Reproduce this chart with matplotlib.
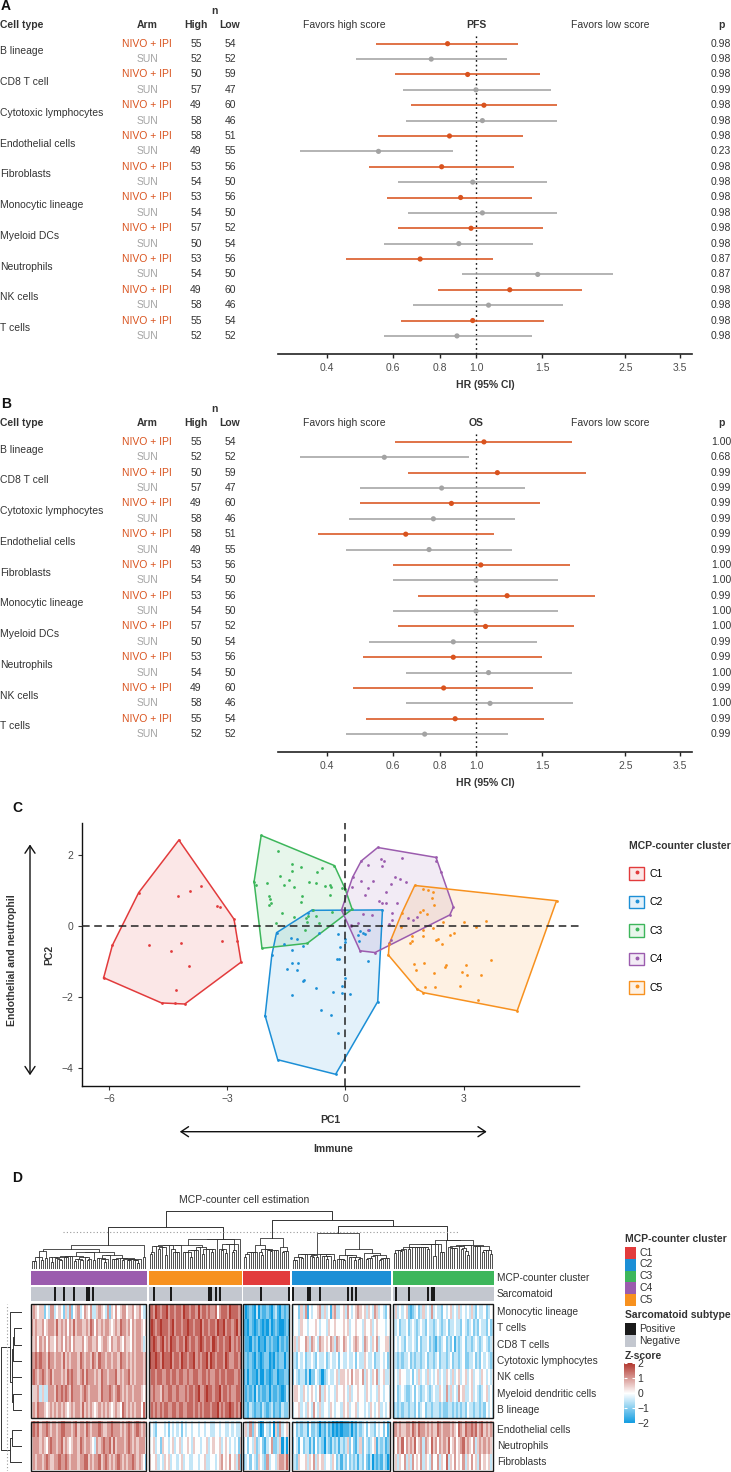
import numpy as np
import matplotlib
matplotlib.use('Agg')
import matplotlib.pyplot as plt
from matplotlib.colors import LinearSegmentedColormap, to_rgba
from matplotlib.patches import Patch, Rectangle, FancyArrowPatch
from matplotlib.lines import Line2D
from matplotlib.ticker import NullLocator
from matplotlib.transforms import blended_transform_factory
from matplotlib.cm import ScalarMappable
from matplotlib.colors import Normalize

plt.rcParams['font.family'] = ['Liberation Sans', 'DejaVu Sans']

# ---------------- data: forest plots (A: PFS, B: OS) ----------------
cell_types = ['B lineage', 'CD8 T cell', 'Cytotoxic lymphocytes', 'Endothelial cells',
              'Fibroblasts', 'Monocytic lineage', 'Myeloid DCs', 'Neutrophils',
              'NK cells', 'T cells']
arms = ['NIVO + IPI', 'SUN']
n_high = [55, 52, 50, 57, 49, 58, 58, 49, 53, 54, 53, 54, 57, 50, 53, 54, 49, 58, 55, 52]
n_low = [54, 52, 59, 47, 60, 46, 51, 55, 56, 50, 56, 50, 52, 54, 56, 50, 60, 46, 54, 52]

pfs_hr = [0.84, 0.76, 0.95, 1.00, 1.05, 1.04, 0.85, 0.55, 0.81, 0.98,
          0.91, 1.04, 0.97, 0.90, 0.71, 1.46, 1.23, 1.08, 0.98, 0.89]
pfs_lo = [0.54, 0.48, 0.61, 0.64, 0.67, 0.65, 0.55, 0.34, 0.52, 0.62,
          0.58, 0.66, 0.62, 0.57, 0.45, 0.92, 0.79, 0.68, 0.63, 0.57]
pfs_hi = [1.29, 1.21, 1.48, 1.58, 1.64, 1.64, 1.33, 0.87, 1.26, 1.55,
          1.41, 1.64, 1.51, 1.42, 1.11, 2.32, 1.92, 1.71, 1.52, 1.41]
pfs_p = ['0.98', '0.98', '0.98', '0.99', '0.98', '0.98', '0.98', '0.23', '0.98', '0.98',
         '0.98', '0.98', '0.98', '0.98', '0.87', '0.87', '0.98', '0.98', '0.98', '0.98']

os_hr = [1.05, 0.57, 1.14, 0.81, 0.86, 0.77, 0.65, 0.75, 1.03, 1.00,
         1.21, 1.00, 1.06, 0.87, 0.87, 1.08, 0.82, 1.09, 0.88, 0.73]
os_lo = [0.61, 0.34, 0.66, 0.49, 0.49, 0.46, 0.38, 0.45, 0.60, 0.60,
         0.70, 0.60, 0.62, 0.52, 0.50, 0.65, 0.47, 0.65, 0.51, 0.45]
os_hi = [1.80, 0.96, 1.96, 1.35, 1.48, 1.27, 1.12, 1.25, 1.78, 1.65,
         2.08, 1.65, 1.82, 1.45, 1.50, 1.80, 1.42, 1.81, 1.52, 1.22]
os_p = ['1.00', '0.68', '0.99', '0.99', '0.99', '0.99', '0.99', '0.99', '1.00', '1.00',
        '0.99', '1.00', '1.00', '0.99', '0.99', '1.00', '0.99', '1.00', '0.99', '0.99']

hr_ticks = [0.4, 0.6, 0.8, 1.0, 1.5, 2.5, 3.5]
hr_ticklabels = ['0.4', '0.6', '0.8', '1.0', '1.5', '2.5', '3.5']

# ---------------- data: PCA scatter (C) ----------------
pca_c1 = [(-4.23, 2.41), (-5.25, 0.93), (-5.92, -0.56), (-6.14, -1.47), (-4.67, -2.18),
          (-4.34, -2.19), (-4.08, -2.21), (-2.65, -1.03), (-2.75, -0.44), (-2.83, 0.18),
          (-4.26, 0.84), (-3.95, 0.98), (-3.68, 1.11), (-3.26, 0.56), (-3.19, 0.53),
          (-5.00, -0.54), (-4.18, -0.50), (-4.42, -0.73), (-3.98, -1.14), (-3.14, -0.43),
          (-4.30, -1.82)]
pca_c2 = [(-0.86, 0.43), (-1.75, -0.20), (-1.87, -0.83), (-2.04, -2.54), (-1.72, -3.78),
          (-0.25, -4.19), (-0.96, 0.35), (-1.55, -0.51), (-1.38, -0.34), (-1.24, -0.37),
          (-1.36, -0.69), (-1.08, -0.57), (-0.67, -0.20), (-0.18, -0.25), (-0.01, -0.38),
          (-0.01, -0.45), (-0.14, -0.59), (-0.21, -0.95), (-0.16, -0.93), (-1.36, -1.06),
          (-1.20, -1.05), (-1.49, -1.21), (-1.24, -1.24), (-1.05, -1.52), (-1.09, -1.55),
          (-0.76, -1.75), (-0.31, -1.87), (-0.09, -1.71), (-0.09, -1.90), (0.11, -1.93),
          (-1.36, -1.95), (-0.61, -2.39), (-0.37, -2.52), (-0.20, -3.02), (-0.01, -1.48),
          (0.33, -0.26), (0.45, -0.22), (0.35, -0.43), (0.58, -1.01), (0.37, -0.14),
          (0.50, -0.23), (0.60, -0.13), (0.94, 0.44), (0.82, -2.14)]
pca_c3 = [(-2.14, 2.54), (-1.72, 2.11), (-1.36, 1.73), (-1.12, 1.64), (-0.59, 1.61),
          (-0.72, 1.51), (-1.37, 1.55), (-1.65, 1.40), (-1.43, 1.29), (-1.55, 1.15),
          (-1.98, 1.19), (-2.32, 1.24), (-2.26, 1.15), (-1.30, 1.10), (-0.93, 1.22),
          (-0.75, 1.21), (-0.53, 1.12), (-0.38, 1.15), (-0.37, 1.08), (-0.28, 1.69),
          (-0.09, 1.05), (-1.93, 0.82), (-1.91, 0.74), (-1.89, 0.63), (-1.93, 0.58),
          (-1.10, 0.82), (-1.14, 0.67), (-0.39, 0.87), (-0.82, 0.44), (-1.60, 0.35),
          (-1.30, 0.23), (-1.01, 0.20), (-0.94, 0.26), (-0.76, 0.28), (-0.68, 0.07),
          (-0.98, 0.09), (-0.34, 0.38), (-1.77, 0.07), (-1.02, -0.12), (-0.97, -0.50),
          (-2.12, -0.64), (0.17, 0.46), (-0.01, 1.04)]
pca_c4 = [(0.82, 2.20), (2.30, 1.92), (2.31, 1.83), (2.42, 1.52), (2.74, 0.52),
          (2.65, 0.30), (0.75, -0.76), (0.37, -0.71), (0.40, 1.82), (0.18, 1.36),
          (0.16, 1.10), (0.90, 1.87), (0.98, 1.83), (0.93, 1.69), (1.43, 1.91),
          (0.57, 1.70), (0.39, 1.26), (0.71, 1.26), (0.56, 1.07), (1.27, 1.38),
          (1.39, 1.31), (1.54, 1.23), (1.15, 1.16), (1.04, 0.95), (0.49, 0.86),
          (0.86, 0.70), (0.93, 0.63), (1.03, 0.65), (1.30, 0.64), (1.17, 0.35),
          (1.18, 0.17), (0.45, 0.33), (0.67, 0.31), (1.60, 0.20), (1.71, 0.17),
          (1.82, 0.24), (1.10, 0.04), (0.15, -0.01), (0.58, -0.12), (1.16, -0.42),
          (1.11, -0.50), (-0.10, 0.44), (0.33, 0.07), (0.14, 0.02)]
pca_c5 = [(1.76, 1.13), (5.36, 0.70), (1.09, -0.83), (1.11, -0.52), (1.82, -1.79),
          (1.98, -1.89), (1.96, 1.03), (2.10, 1.01), (2.23, 0.94), (2.21, 0.78),
          (2.25, 0.57), (1.96, 0.44), (1.89, 0.39), (2.08, 0.34), (1.43, 0.35),
          (2.48, 0.11), (3.02, 0.09), (3.31, -0.05), (3.57, 0.13), (1.42, -0.05),
          (1.70, -0.28), (1.98, -0.28), (1.96, -0.12), (2.23, -0.08), (2.65, -0.27),
          (2.75, -0.20), (2.29, -0.42), (2.35, -0.38), (2.44, -0.52), (1.65, -0.48),
          (1.69, -0.43), (1.74, -1.08), (1.79, -1.26), (2.00, -1.06), (2.52, -1.16),
          (2.55, -1.10), (2.25, -1.34), (3.05, -1.12), (2.96, -1.31), (3.08, -1.39),
          (3.45, -1.40), (3.70, -0.97), (2.91, -1.70), (2.03, -1.74), (2.27, -1.72),
          (4.36, -2.40), (3.37, -2.11)]

clusters = ['C1', 'C2', 'C3', 'C4', 'C5']
cluster_colors = ['#E23B3C', '#1C8FD6', '#3DB65B', '#9B5CAE', '#F7911F']

# ---------------- data: MCP-counter heatmap (D) ----------------
# digits 0..8 -> z-score (d - 4) / 2, one digit per patient column
hm_rows = ['Monocytic lineage', 'T cells', 'CD8 T cells', 'Cytotoxic lymphocytes', 'NK cells',
           'Myeloid dendritic cells', 'B lineage', 'Endothelial cells', 'Neutrophils', 'Fibroblasts']
hm_C4 = ["56545 52436 63454 25362 45634 65463 35654 36254 64566 45564 56433",
         "65655 64566 65756 56465 75665 56576 46565 66545 65766 56465 66545",
         "55646 56465 54656 46564 65556 45665 56456 65465 56546 55465 66534",
         "66767 66576 65665 75656 66576 56657 65766 56656 65766 56565 66656",
         "67656 76567 56665 65767 66567 57666 56576 65666 75656 67565 66656",
         "45563 53366 65767 67657 66656 76566 66576 66765 67656 56656 66545",
         "56576 65456 56565 65456 56657 56565 45656 56545 65476 56565 66475",
         "67675 66765 66567 76665 67566 57656 66765 56676 66565 67656 76565",
         "56665 65467 66567 56545 66576 56654 36567 66757 56665 67656 56664",
         "56566 56765 56676 67656 66566 77565 66756 76565 67656 56676 56542"]
hm_C5 = ["77687 67786 77677 68776 77686 77676 67467 77687 7767",
         "78767 87776 78677 67787 76778 67767 76877 86776 7867",
         "77876 78676 87767 76876 77678 76776 87677 67786 7676",
         "87787 68777 86776 87767 78676 77868 76777 68766 7767",
         "67767 76677 67767 76676 67766 77676 67767 76777 6676",
         "66766 57667 76676 66767 76786 67877 67786 77676 6776",
         "67676 76776 67767 76677 76767 67776 77867 67787 6768",
         "34324 44342 43434 24344 34434 43443 34434 43343 4334",
         "44534 25443 45345 34454 35443 44534 54453 45434 3425",
         "54453 43545 34434 53443 34434 45334 43456 45464 5362"]
hm_C1 = ["20121 03021 12102 31021 22",
         "11021 01210 10201 21001 21",
         "21102 12011 02121 10212 12",
         "22121 02101 22010 21220 22",
         "12021 10200 21012 20112 21",
         "21212 03121 12021 12101 32",
         "22132 12213 21231 22132 23",
         "45362 54201 43240 52634 54",
         "34243 52342 13462 23503 04",
         "23424 32543 26344 35665 75"]
hm_C2 = ["34425 36143 44563 53415 63345 36434 56545 35436 53432 45",
         "34435 44344 45434 43544 54445 45344 54435 44534 54443 44",
         "45354 46536 54365 45465 36546 54345 65436 54354 63445 53",
         "33243 42334 32433 42343 34243 34334 24335 43342 33434 23",
         "24323 31302 24320 23433 45355 45464 55463 54354 63453 34",
         "45543 54345 43463 54344 35445 43534 45443 54344 35434 43",
         "34453 43543 64353 44354 34435 45344 53443 43543 45343 45",
         "34232 33142 23202 13120 10101 11202 13234 24332 43424 13",
         "24314 23313 14232 03213 23132 35242 13524 32345 13231 23",
         "33254 45354 63545 34435 42313 24232 31324 21302 12132 02"]
hm_C3 = ["35343 45212 34235 34363 43324 34534 35343 43532 43342 344",
         "33423 34234 32343 24332 34323 42334 33243 23423 24332 423",
         "34343 24334 32423 34232 13234 23241 32342 33234 32343 234",
         "33232 33423 23323 42332 34233 23423 32342 23342 32434 323",
         "34354 43342 43534 35343 45343 54353 45345 34534 43543 434",
         "34234 32234 24323 43234 33543 63534 36453 34534 32345 343",
         "23232 33233 24234 23323 33232 23323 23232 43323 32324 343",
         "66565 56657 65766 56565 57656 66565 47657 66767 56756 565",
         "54657 46565 74563 65475 64656 57456 45675 65463 56565 654",
         "45354 63536 45463 54364 46354 73546 45463 54645 36454 534"]
hm_order = ['C4', 'C5', 'C1', 'C2', 'C3']
sarcomatoid_pos = {'C4': [11, 15, 20, 26, 27, 29], 'C5': [2, 10, 28, 29, 31, 33],
                   'C1': [8, 21], 'C2': [0, 7, 8, 13, 26, 28, 30], 'C3': [1, 7, 16, 18, 19]}
# dendrogram heights (pixels above the leaves)
subtree_height = {'C4': 24, 'C5': 30, 'C1': 31, 'C2': 36, 'C3': 29}
top_merges = [('C4', 'C5', 42.3), ('C2', 'C3', 43.3), ('C1', 'C2+C3', 49.0),
              ('C4+C5', 'C1+C2+C3', 58.3)]
cut_height = 37.3

ORANGE = '#D9531E'
GREY = '#A3A3A3'
TXT = '#333333'

W, H = 731, 1472
fig = plt.figure(figsize=(W / 100, H / 100), dpi=100)


def fx(p):
    return p / W


def fy(p):
    return 1 - p / H


def box(x0, y0, x1, y1):
    return [x0 / W, 1 - y1 / H, (x1 - x0) / W, (y1 - y0) / H]


# ---------------- forest panels ----------------
def forest(top, hr, lo, hi, pv, endpoint, letter):
    ax = fig.add_axes(box(278, top - 8.7, 692, top + 310.3))
    rows = np.arange(len(hr))
    cols = [ORANGE if r % 2 == 0 else GREY for r in rows]
    ax.hlines(rows, lo, hi, colors=cols, lw=1.15)
    ax.scatter(hr, rows, s=14, c=cols, zorder=3, linewidths=0)
    ax.axvline(1.0, color='#111111', lw=1.0, ls=(0, (1.2, 2.2)), zorder=1)
    ax.set_xscale('log')
    ax.set_xlim(0.297, 3.76)
    ax.set_ylim(310.3 / 15.38, -8.7 / 15.38)
    ax.set_xticks(hr_ticks)
    ax.set_xticklabels(hr_ticklabels)
    ax.xaxis.set_minor_locator(NullLocator())
    ax.set_yticks([])
    for s in ['top', 'right', 'left']:
        ax.spines[s].set_visible(False)
    ax.spines['bottom'].set_linewidth(1.2)
    ax.spines['bottom'].set_color('#222222')
    ax.tick_params(axis='x', length=3, width=1, color='#222222', labelsize=7.5,
                   labelcolor='#4D4D4D', pad=3.5)
    ax.set_xlabel('HR (95% CI)', fontsize=7.5, fontweight='bold', color=TXT, labelpad=5)
    ax.set_facecolor('none')

    tr = blended_transform_factory(fig.transFigure, ax.transData)
    for i, ct in enumerate(cell_types):
        ax.text(0, 2 * i + 0.5, ct, transform=tr, ha='left', va='center', fontsize=7.5, color=TXT)
    for r in rows:
        c = ORANGE if r % 2 == 0 else GREY
        ax.text(fx(147), r, arms[r % 2], transform=tr, ha='center', va='center', fontsize=7.5, color=c)
        ax.text(fx(196), r, str(n_high[r]), transform=tr, ha='center', va='center', fontsize=7.5, color=TXT)
        ax.text(fx(230), r, str(n_low[r]), transform=tr, ha='center', va='center', fontsize=7.5, color=TXT)
        ax.text(fx(721), r, pv[r], transform=tr, ha='center', va='center', fontsize=7.5, color=TXT)
    hy = -1.2
    ax.text(0, hy, 'Cell type', transform=tr, ha='left', va='center', fontsize=7.5, fontweight='bold', color=TXT)
    ax.text(fx(147), hy, 'Arm', transform=tr, ha='center', va='center', fontsize=7.5, fontweight='bold', color=TXT)
    ax.text(fx(196), hy, 'High', transform=tr, ha='center', va='center', fontsize=7.5, fontweight='bold', color=TXT)
    ax.text(fx(230), hy, 'Low', transform=tr, ha='center', va='center', fontsize=7.5, fontweight='bold', color=TXT)
    ax.text(fx(214), -2.13, 'n', transform=tr, ha='center', va='center', fontsize=7.5, fontweight='bold', color=TXT)
    ax.text(fx(344), hy, 'Favors high score', transform=tr, ha='center', va='center', fontsize=7.5, color=TXT)
    ax.text(1.0, hy, endpoint, ha='center', va='center', fontsize=7.5, fontweight='bold', color=TXT)
    ax.text(fx(610), hy, 'Favors low score', transform=tr, ha='center', va='center', fontsize=7.5, color=TXT)
    ax.text(fx(721), hy, 'p', transform=tr, ha='center', va='center', fontsize=7.5, fontweight='bold', color=TXT)
    ax.text(fx(1), -2.45, letter, transform=tr, ha='left', va='center', fontsize=10, fontweight='bold', color='#111111')
    return ax


forest(43.7, pfs_hr, pfs_lo, pfs_hi, pfs_p, 'PFS', 'A')
forest(441.9, os_hr, os_lo, os_hi, os_p, 'OS', 'B')


# ---------------- PCA panel ----------------
def hull(pts):
    p = sorted(set(pts))

    def cross(o, a, b):
        return (a[0] - o[0]) * (b[1] - o[1]) - (a[1] - o[1]) * (b[0] - o[0])
    lower, upper = [], []
    for q in p:
        while len(lower) >= 2 and cross(lower[-2], lower[-1], q) <= 0:
            lower.pop()
        lower.append(q)
    for q in reversed(p):
        while len(upper) >= 2 and cross(upper[-2], upper[-1], q) <= 0:
            upper.pop()
        upper.append(q)
    return np.array(lower[:-1] + upper[:-1])


axC = fig.add_axes(box(81.6, 823, 579, 1086))
for pts, col in zip([pca_c1, pca_c2, pca_c3, pca_c4, pca_c5], cluster_colors):
    h = hull(pts)
    axC.fill(h[:, 0], h[:, 1], color=col, alpha=0.12, lw=0)
    hc = np.vstack([h, h[:1]])
    axC.plot(hc[:, 0], hc[:, 1], color=col, lw=1.1)
    a = np.array(pts)
    axC.scatter(a[:, 0], a[:, 1], s=4, color=col, linewidths=0, zorder=3)
axC.axhline(0, color='#222222', lw=1.1, ls=(0, (5, 3)), zorder=4)
axC.axvline(0, color='#222222', lw=1.1, ls=(0, (5, 3)), zorder=4)
axC.set_xlim(-6.70, 5.93)
axC.set_ylim(-4.52, 2.89)
axC.set_xticks([-6, -3, 0, 3])
axC.set_yticks([-4, -2, 0, 2])
for s in ['top', 'right']:
    axC.spines[s].set_visible(False)
for s in ['left', 'bottom']:
    axC.spines[s].set_linewidth(1.0)
    axC.spines[s].set_color('#111111')
axC.tick_params(length=3, width=0.8, color='#333333', labelsize=7.5, labelcolor='#4D4D4D', pad=3)
axC.set_xlabel('PC1', fontsize=7.5, fontweight='bold', color=TXT, labelpad=8)
axC.set_ylabel('PC2', fontsize=7.5, fontweight='bold', color=TXT, labelpad=5)
axC.set_facecolor('none')

handles = [(Patch(facecolor=to_rgba(c, 0.12), edgecolor=c, lw=1.0),
            Line2D([], [], marker='o', ls='', ms=1.8, color=c)) for c in cluster_colors]
leg = fig.legend(handles, clusters, title='MCP-counter cluster', loc='upper left',
                 bbox_to_anchor=(fx(625), fy(837)), frameon=False, fontsize=7.5,
                 title_fontsize=7.5, handlelength=1.45, handleheight=1.45,
                 labelspacing=1.55, handletextpad=0.5, alignment='left', borderaxespad=0)
leg.get_title().set_fontweight('bold')
leg.get_title().set_color(TXT)

fig.text(fx(12), fy(808), 'C', fontsize=10, fontweight='bold', ha='left', va='center', color='#111111')
fig.text(fx(11.6), fy(960), 'Endothelial and neutrophil', rotation=90, fontsize=7.5,
         fontweight='bold', ha='center', va='center', color=TXT)
fig.text(fx(333), fy(1149), 'Immune', fontsize=7.5, fontweight='bold', ha='center', va='center', color=TXT)
arr_style = '<->,head_length=0.45,head_width=0.3'
fig.add_artist(FancyArrowPatch((fx(30), fy(1078)), (fx(30), fy(841.7)), transform=fig.transFigure,
                               arrowstyle=arr_style, mutation_scale=12, lw=1.0, color='#111111'))
fig.add_artist(FancyArrowPatch((fx(177), fy(1131.7)), (fx(489.5), fy(1131.7)), transform=fig.transFigure,
                               arrowstyle=arr_style, mutation_scale=12, lw=1.0, color='#111111'))

# ---------------- heatmap panel ----------------
hm_data = {'C4': hm_C4, 'C5': hm_C5, 'C1': hm_C1, 'C2': hm_C2, 'C3': hm_C3}
cmap = LinearSegmentedColormap.from_list('z', ['#0E9BE0', '#FFFFFF', '#B2382F'])


def to_mat(rows):
    m = [[(int(ch) - 4) / 2 for ch in r.replace(' ', '')] for r in rows]
    lens = {len(r) for r in m}
    assert len(lens) == 1, lens
    return np.array(m)


mats = {k: to_mat(v) for k, v in hm_data.items()}
gap = 1.1
offsets = {}
x = 0.0
for k in hm_order:
    offsets[k] = x
    x += mats[k].shape[1] + gap
total = x - gap

row_groups = [(0, 7, 0.0), (7, 10, 7.21)]
ymax = 10.21


def row_y(i):
    for r0, r1, y0 in row_groups:
        if r0 <= i < r1:
            return y0 + (i - r0) + 0.5


axH = fig.add_axes(box(31.2, 1304, 493.2, 1470.5))
for k in hm_order:
    M = mats[k]
    x0 = offsets[k]
    n = M.shape[1]
    for r0, r1, y0 in row_groups:
        axH.imshow(M[r0:r1], cmap=cmap, vmin=-2, vmax=2, aspect='auto', interpolation='nearest',
                   extent=(x0, x0 + n, y0 + (r1 - r0), y0))
        axH.add_patch(Rectangle((x0, y0), n, r1 - r0, fill=False, ec='#1A1A1A', lw=1.0,
                                zorder=5, clip_on=False))
axH.set_xlim(0, total)
axH.set_ylim(ymax, 0)
axH.axis('off')
trH = blended_transform_factory(fig.transFigure, axH.transData)
for i, name in enumerate(hm_rows):
    axH.text(fx(497), row_y(i), name, transform=trH, ha='left', va='center', fontsize=7.3, color=TXT)

# annotation bars
axA1 = fig.add_axes(box(31.2, 1270.7, 493.2, 1285.3))
axA2 = fig.add_axes(box(31.2, 1286.7, 493.2, 1300.7))
for k in hm_order:
    n = mats[k].shape[1]
    x0 = offsets[k]
    col = to_rgba(cluster_colors[clusters.index(k)])
    axA1.imshow(np.array([[col] * n]), aspect='auto', extent=(x0, x0 + n, 1, 0), interpolation='nearest')
    sar = np.array([[to_rgba('#1A1A1A') if j in sarcomatoid_pos[k] else to_rgba('#C3C7CF')
                     for j in range(n)]])
    axA2.imshow(sar, aspect='auto', extent=(x0, x0 + n, 1, 0), interpolation='nearest')
for a, lab in [(axA1, 'MCP-counter cluster'), (axA2, 'Sarcomatoid')]:
    a.set_xlim(0, total)
    a.set_ylim(1, 0)
    a.axis('off')
    a.text(fx(497), 0.5, lab, transform=blended_transform_factory(fig.transFigure, a.transAxes),
           ha='left', va='center', fontsize=7.3, color=TXT)


# order preserving (adjacent) Ward-type agglomeration for the dendrograms
def adj_tree(X, top):
    groups = [[i] for i in range(len(X))]
    pos = [i + 0.5 for i in range(len(X))]
    hts = [0.0] * len(X)
    segs = []
    while len(groups) > 1:
        d = []
        for j in range(len(groups) - 1):
            a, b = groups[j], groups[j + 1]
            na, nb = len(a), len(b)
            dist = np.linalg.norm(X[a].mean(0) - X[b].mean(0))
            d.append(np.sqrt(2.0 * na * nb / (na + nb)) * dist)
        j = int(np.argmin(d))
        hgt = max(d[j], hts[j], hts[j + 1])
        segs.append((pos[j], hts[j], pos[j + 1], hts[j + 1], hgt))
        groups[j:j + 2] = [groups[j] + groups[j + 1]]
        pos[j:j + 2] = [(pos[j] + pos[j + 1]) / 2]
        hts[j:j + 2] = [hgt]
    s = top / hts[0]
    segs = [(a, b * s, c, e * s, f * s) for a, b, c, e, f in segs]
    return segs, pos[0]


DCOL = '#333333'
axD = fig.add_axes(box(31.2, 1210.5, 493.2, 1269.3))
nodes = {}
for k in hm_order:
    segs, root = adj_tree(mats[k].T, subtree_height[k])
    x0 = offsets[k]
    for xa, ha, xb, hb, hh in segs:
        axD.plot([x0 + xa, x0 + xa, x0 + xb, x0 + xb], [ha, hh, hh, hb], color=DCOL, lw=0.6)
    nodes[k] = (x0 + root, subtree_height[k])
for a, b, hh in top_merges:
    (xa, ha), (xb, hb) = nodes[a], nodes[b]
    axD.plot([xa, xa, xb, xb], [ha, hh, hh, hb], color=DCOL, lw=0.7)
    nodes[a + '+' + b] = ((xa + xb) / 2, hh)
axD.axhline(cut_height, 0.069, 0.926, color='#9A9A9A', lw=0.8, ls=(0, (1, 2)))
axD.set_xlim(0, total)
axD.set_ylim(0, 58.8)
axD.axis('off')

# row dendrogram
all_m = np.hstack([mats[k] for k in hm_order])
axR = fig.add_axes(box(0, 1304, 22, 1470.5))
rnodes = []
for r0, r1, y0 in row_groups:
    segs, root = adj_tree(all_m[r0:r1], 12.0)
    for ya, ha, yb, hb, hh in segs:
        axR.plot([ha, hh, hh, hb], [y0 + ya, y0 + ya, y0 + yb, y0 + yb], color=DCOL, lw=0.7)
    rnodes.append((y0 + root, 12.0))
(ya, ha), (yb, hb) = rnodes
axR.plot([ha, 21.5, 21.5, hb], [ya, ya, yb, yb], color=DCOL, lw=0.7)
axR.axvline(14.7, color='#9A9A9A', lw=0.8, ls=(0, (1, 2)))
axR.set_xlim(22, 0)
axR.set_ylim(ymax, 0)
axR.axis('off')

fig.text(fx(12), fy(1178.3), 'D', fontsize=10, fontweight='bold', ha='left', va='center', color='#111111')
fig.text(fx(244.5), fy(1200), 'MCP-counter cell estimation', fontsize=7.5, ha='center', va='center', color=TXT)

# heatmap legends
fig.text(fx(624.7), fy(1239), 'MCP-counter cluster', fontsize=7.5, fontweight='bold', ha='left', va='center', color=TXT)
axL1 = fig.add_axes(box(624.7, 1246.8, 635.5, 1305.6))
axL1.imshow(np.array([[to_rgba(c)] for c in cluster_colors]), aspect='auto', extent=(0, 1, 5, 0))
for i, c in enumerate(clusters):
    axL1.text(1.35, i + 0.5, c, ha='left', va='center', fontsize=7.5, color=TXT)
axL1.set_xlim(0, 1)
axL1.set_ylim(5, 0)
axL1.axis('off')

fig.text(fx(624.7), fy(1315), 'Sarcomatoid subtype', fontsize=7.5, fontweight='bold', ha='left', va='center', color=TXT)
axL2 = fig.add_axes(box(624.7, 1322.7, 635.5, 1346.7))
axL2.imshow(np.array([[to_rgba('#1A1A1A')], [to_rgba('#C3C7CF')]]), aspect='auto', extent=(0, 1, 2, 0))
for i, lab in enumerate(['Positive', 'Negative']):
    axL2.text(1.35, i + 0.5, lab, ha='left', va='center', fontsize=7.5, color=TXT)
axL2.set_xlim(0, 1)
axL2.set_ylim(2, 0)
axL2.axis('off')

fig.text(fx(624.7), fy(1355.7), 'Z-score', fontsize=7.5, fontweight='bold', ha='left', va='center', color=TXT)
cax = fig.add_axes(box(623.8, 1363.3, 635.5, 1423.3))
sm = ScalarMappable(norm=Normalize(-2, 2), cmap=cmap)
cb = fig.colorbar(sm, cax=cax, ticks=[-2, -1, 0, 1, 2])
cb.outline.set_visible(False)
cax.tick_params(length=2.5, width=0.8, color='white', direction='in', labelsize=7.5,
                labelcolor=TXT, pad=1.5, left=True, right=True)

fig.savefig('out.png', dpi=100)
